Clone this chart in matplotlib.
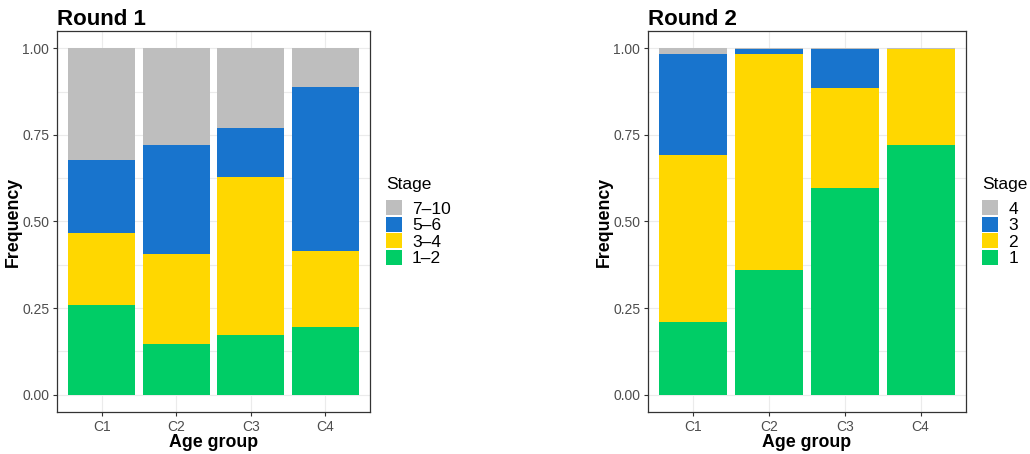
import matplotlib
matplotlib.use("Agg")
import matplotlib.pyplot as plt
from matplotlib.patches import Patch
from matplotlib.ticker import MultipleLocator
import numpy as np

plt.rcParams['font.family'] = ['Liberation Sans', 'DejaVu Sans']

groups = ["C1", "C2", "C3", "C4"]

# round 1: share of each stage per age group (bottom to top)
r1_stages = ["1–2", "3–4", "5–6", "7–10"]
r1_s12 = [0.259, 0.146, 0.172, 0.195]
r1_s34 = [0.209, 0.261, 0.457, 0.221]
r1_s56 = [0.210, 0.314, 0.141, 0.472]
r1_s710 = [0.322, 0.279, 0.230, 0.112]

# round 2
r2_stages = ["1", "2", "3", "4"]
r2_s1 = [0.210, 0.359, 0.597, 0.721]
r2_s2 = [0.482, 0.624, 0.288, 0.276]
r2_s3 = [0.291, 0.014, 0.112, 0.000]
r2_s4 = [0.017, 0.003, 0.003, 0.003]

colors = ["#00CD66", "#FFD700", "#1874CD", "#BEBEBE"]


# stacked bars in ggplot-ish style
def stacked_panel(ax, title, stages, series):
    x = np.arange(1, len(groups) + 1)
    bottom = np.zeros(len(groups))
    for vals, col in zip(series, colors):
        ax.bar(x, vals, width=0.9, bottom=bottom, color=col, linewidth=0, zorder=2)
        bottom += np.array(vals)
    ax.set_xlim(0.4, 4.6)
    ax.set_ylim(-0.05, 1.05)
    ax.set_xticks(x)
    ax.set_xticklabels(groups)
    ax.set_yticks([0, 0.25, 0.5, 0.75, 1.0])
    ax.set_yticklabels(["0.00", "0.25", "0.50", "0.75", "1.00"])
    ax.yaxis.set_minor_locator(MultipleLocator(0.125))
    ax.xaxis.set_minor_locator(MultipleLocator(100))
    ax.grid(True, which="both", color="#EBEBEB", linewidth=0.8, zorder=0)
    ax.set_axisbelow(True)
    ax.tick_params(axis="both", which="major", labelsize=10, labelcolor="#4D4D4D",
                   color="#333333", length=3, width=0.8, pad=2.5)
    ax.tick_params(axis="both", which="minor", length=0)
    for sp in ax.spines.values():
        sp.set_color("#333333")
        sp.set_linewidth(0.9)
    ax.set_xlabel("Age group", fontsize=12.8, fontweight="bold", labelpad=0)
    ax.set_ylabel("Frequency", fontsize=12.8, fontweight="bold", labelpad=0)
    ax.set_title(title, fontsize=16, fontweight="bold", loc="left", pad=4)
    handles = [Patch(facecolor=c, edgecolor="none", label=s) for s, c in zip(stages, colors)]
    leg = ax.legend(handles=handles[::-1], title="Stage", loc="center left",
                    bbox_to_anchor=(1.04, 0.5), frameon=False, fontsize=12.5,
                    title_fontsize=12.5, handlelength=0.9, handleheight=0.95,
                    labelspacing=0.0, handletextpad=0.6, borderaxespad=0,
                    borderpad=0.2)
    leg._legend_box.align = "left"
    leg._legend_box.sep = 6


fig = plt.figure(figsize=(10.3, 4.54), dpi=100)
ax1 = fig.add_axes([57 / 1030, 1 - 412 / 454, 313 / 1030, 381 / 454])
ax2 = fig.add_axes([648 / 1030, 1 - 412 / 454, 318 / 1030, 381 / 454])

stacked_panel(ax1, "Round 1", r1_stages, [r1_s12, r1_s34, r1_s56, r1_s710])
stacked_panel(ax2, "Round 2", r2_stages, [r2_s1, r2_s2, r2_s3, r2_s4])

fig.savefig("out.png", dpi=100)
